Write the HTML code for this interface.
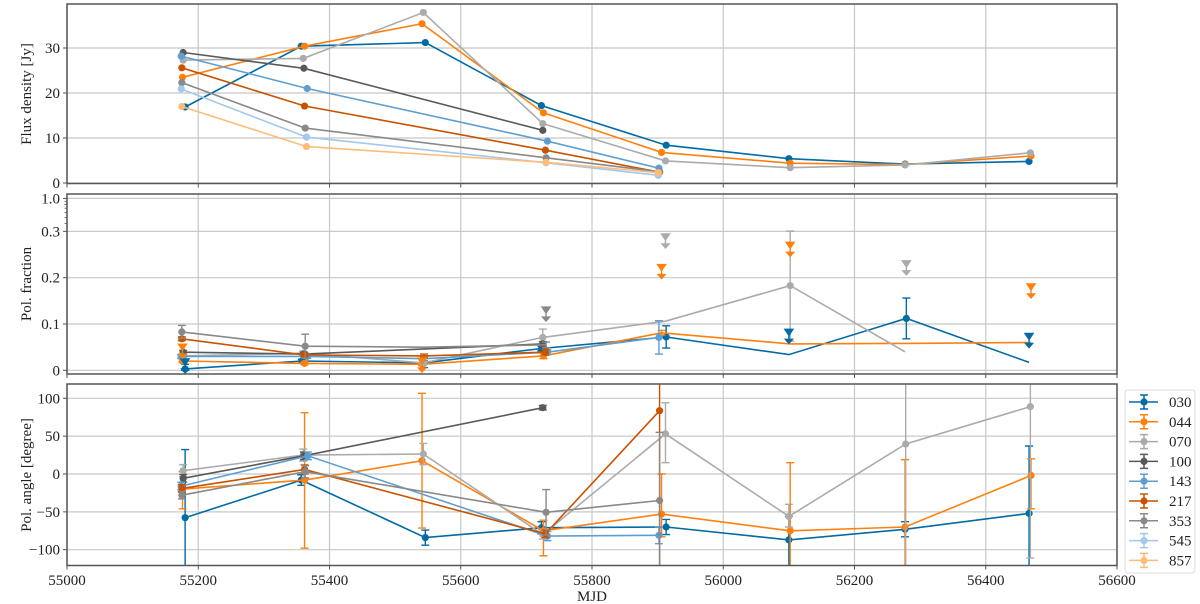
<!DOCTYPE html>
<html><head><meta charset="utf-8">
<style>
html,body{margin:0;padding:0;background:#fff;}
svg{display:block;font-family:"Liberation Serif",serif;}
</style></head>
<body>
<svg id="chart" width="1200" height="604" viewBox="0 0 1200 604" xmlns="http://www.w3.org/2000/svg">
<defs>
<clipPath id="c1"><rect x="67" y="4" width="1050" height="179.5"/></clipPath>
<clipPath id="c2"><rect x="67" y="194" width="1050" height="180"/></clipPath>
<clipPath id="c3"><rect x="67" y="384" width="1050" height="181.5"/></clipPath>
</defs>
<g id="grid"></g>
<g id="marks"></g>
<g id="frames"></g>
<g id="legend"></g>
</svg>
<script>
// ---- data ----
const seriesNames = ["030","044","070","100","143","217","353","545","857"];
const seriesColors = ["#006BA4","#FF800E","#ABABAB","#595959","#5F9ED1","#C85200","#898989","#A2C8EC","#FFBC79"];
const xTicks = [55000,55200,55400,55600,55800,56000,56200,56400,56600];
const fluxTicks = [0,10,20,30];
const fracTicks = [0,0.1,0.2,0.3,1.0];
const fracTickLabels = ["0","0.1","0.2","0.3","1.0"];
const angTicks = [-100,-50,0,50,100];
const angTickLabels = ["\u2212100","\u221250","0","50","100"];

// flux: [mjd, Jy]
const flux030 = [[55180,16.9],[55357,30.4],[55546,31.2],[55723,17.2],[55913,8.4],[56100,5.4],[56277,4.2],[56466,4.8]];
const flux044 = [[55176,23.5],[55362,30.4],[55541,35.4],[55726,15.6],[55906,6.8],[56102,4.4],[56277,4.1],[56469,6.0]];
const flux070 = [[55177,27.3],[55360,27.7],[55543,37.9],[55725,13.2],[55912,4.9],[56102,3.4],[56277,4.0],[56468,6.7]];
const flux100 = [[55177,29.0],[55361,25.5],[55725,11.7]];
const flux143 = [[55174,28.2],[55366,21.0],[55732,9.3],[55902,3.3]];
const flux217 = [[55175,25.6],[55362,17.1],[55729,7.3],[55903,2.4]];
const flux353 = [[55175,22.3],[55363,12.2],[55730,5.6],[55903,2.5]];
const flux545 = [[55174,20.9],[55365,10.2],[55730,4.5],[55901,1.7]];
const flux857 = [[55175,17.0],[55365,8.1],[55730,4.6],[55901,2.3]];

// pol fraction: [mjd, value, err, showMarker]
const frac030 = [[55180,0.003,0.01,1],[55358,0.02,0.004,1],[55544,0.016,0.01,1],[55723,0.047,0.005,1],[55913,0.072,0.024,1],[56100,0.034,0,0],[56279,0.112,0.044,1],[56466,0.017,0,0]];
const frac044 = [[55176,0.02,0.003,1],[55362,0.015,0.003,1],[55541,0.013,0.003,1],[55726,0.031,0.006,1],[55906,0.081,0.005,0],[56102,0.057,0,0],[56277,0.058,0,0],[56469,0.06,0,0]];
const frac070 = [[55177,0.031,0.004,1],[55360,0.037,0.004,1],[55543,0.016,0.004,1],[55725,0.071,0.018,1],[55912,0.106,0,0],[56102,0.183,0.12,1],[56277,0.04,0,0]];
const frac100 = [[55177,0.039,0.004,1],[55361,0.035,0.004,1],[55725,0.057,0.005,1]];
const frac143 = [[55174,0.03,0.004,1],[55366,0.03,0.004,1],[55544,0.025,0.004,0],[55732,0.039,0.005,1],[55902,0.071,0.036,1]];
const frac217 = [[55175,0.068,0.004,1],[55362,0.033,0.004,1],[55544,0.031,0.004,0],[55729,0.039,0.006,1]];
const frac353 = [[55175,0.083,0.014,1],[55363,0.052,0.026,1],[55544,0.05,0,0],[55730,0.055,0.006,0]];
// upper limits: [seriesIndex, mjd, value]
const fracLimIdx = [0,0,0,1,1,1,1,1,2,2,6];
const fracLimMjd = [55180,56100,56466,55176,55541,55906,56102,56469,55912,56279,55730];
const fracLimVal = [0.018,0.082,0.073,0.05,0.02,0.222,0.27,0.18,0.288,0.23,0.13];

// pol angle: [mjd, deg, errLo, errHi]
const ang030 = [[55180,-57.7,120,90],[55357,-8,7,7],[55546,-84,10,10],[55723,-71,8,8],[55913,-70,10,10],[56100,-87,60,31],[56277,-73,10,10],[56466,-52,80,89]];
const ang044 = [[55176,-20,26,23],[55362,-8,90,89],[55541,17.6,89,89],[55726,-75,33,14],[55906,-53,30,53],[56102,-75,60,90],[56277,-70,60,89],[56469,-2,44,22]];
const ang070 = [[55177,4.4,8,8],[55360,25,8,8],[55543,26.4,14,14],[55725,-80,6,6],[55912,53,38,41],[56100,-56,14,16],[56278,39.6,170,170],[56468,89,200,200]];
const ang100 = [[55177,-5.7,5,5],[55361,24,5,5],[55725,87.6,3,3]];
const ang143 = [[55174,-16,5,5],[55367,24,5,5],[55732,-82,6,6],[55902,-81,11,11]];
const ang217 = [[55175,-19,5,5],[55362,6,6,6],[55729,-79,5,5],[55903,83.6,220,220]];
const ang353 = [[55175,-28,5,5],[55363,3,8,8],[55730,-50.6,30,30],[55903,-35,100,90]];

const fluxData = [flux030,flux044,flux070,flux100,flux143,flux217,flux353,flux545,flux857];
const fracData = [frac030,frac044,frac070,frac100,frac143,frac217,frac353];
const angData = [ang030,ang044,ang070,ang100,ang143,ang217,ang353];

// ---- scales ----
const X0=67, X1=1117;
function sx(m){return X0+(m-55000)*(X1-X0)/1600;}
function syFlux(v){return 183-4.5*v;}
function syFrac(v){
  if(v<=0.3) return 370.3-463*v;
  return 231.4-33*Math.log10(v/0.3)/Math.log10(1/0.3);
}
function syAng(v){return 474-0.757*v;}
const panels=[{t:4,b:183.5,clip:"c1"},{t:194,b:374,clip:"c2"},{t:384,b:565.5,clip:"c3"}];

const NS="http://www.w3.org/2000/svg";
function mk(tag,attrs,parent){const e=document.createElementNS(NS,tag);for(const k in attrs)e.setAttribute(k,attrs[k]);parent.appendChild(e);return e;}
const grid=document.getElementById('grid');
const marks=document.getElementById('marks');
const frames=document.getElementById('frames');
const legend=document.getElementById('legend');

// grid + ticks
panels.forEach((p,pi)=>{
  xTicks.forEach(t=>{
    const l=mk('line',{x1:sx(t),x2:sx(t),y1:p.t,y2:p.b,stroke:'#c8c8c8','stroke-width':1.2},grid);
    
    
    const tk=mk('line',{x1:sx(t),x2:sx(t),y1:p.b,y2:p.b+4,stroke:'#555','stroke-width':1},frames);
    
    
  });
});
function yAxis(ticks,labels,fn,p,name){
  ticks.forEach((t,i)=>{
    const y=fn(t);
    const l=mk('line',{x1:X0,x2:X1,y1:y,y2:y,stroke:'#c8c8c8','stroke-width':1.2},grid);
    
    
    const tk=mk('line',{x1:X0-4,x2:X0,y1:y,y2:y,stroke:'#555','stroke-width':1},frames);
    
    
    const tx=mk('text',{x:X0-7,y:y+5,'text-anchor':'end','font-size':15,fill:'#222'},frames);
    tx.textContent=labels[i];
    
    
  });
}
yAxis(fluxTicks,fluxTicks.map(String),syFlux,panels[0],'flux-y');
yAxis(fracTicks,fracTickLabels,syFrac,panels[1],'frac-y');
yAxis(angTicks,angTickLabels,syAng,panels[2],'angle-y');
// minor log ticks 0.4..0.9
[0.4,0.5,0.6,0.7,0.8,0.9].forEach(v=>{
  const tk=mk('line',{x1:X0-2.5,x2:X0,y1:syFrac(v),y2:syFrac(v),stroke:'#555','stroke-width':0.8},frames);
  
  
});
// frames
panels.forEach((p,pi)=>{
  const r=mk('rect',{x:X0,y:p.t,width:X1-X0,height:p.b-p.t,fill:'none',stroke:'#555','stroke-width':1.5},frames);
  
  
});
// x tick labels
xTicks.forEach(t=>{
  const tx=mk('text',{x:sx(t),y:585,'text-anchor':'middle','font-size':15,fill:'#222'},frames);
  tx.textContent=String(t);
  
  
});
const xl=mk('text',{x:592,y:601,'text-anchor':'middle','font-size':15,fill:'#222'},frames);
xl.textContent='MJD';


[['Flux density [Jy]',94,'flux-y-axis-title'],['Pol. fraction',284,'frac-y-axis-title'],['Pol. angle [degree]',475,'angle-y-axis-title']].forEach(a=>{
  const t=mk('text',{x:0,y:0,transform:`translate(31,${a[1]}) rotate(-90)`,'text-anchor':'middle','font-size':15,fill:'#222'},frames);
  t.textContent=a[0];
  
  
});

// series drawing
function drawSeries(data,fn,pi,hasErr,panelName){
  const g=mk('g',{'clip-path':`url(#${panels[pi].clip})`},marks);
  
  
  data.forEach((ser,si)=>{
    const col=seriesColors[si];
    const pts=ser.map(d=>sx(d[0]).toFixed(1)+','+fn(d[1]).toFixed(1)).join(' ');
    const pl=mk('polyline',{points:pts,fill:'none',stroke:col,'stroke-width':1.6},g);
    
    
    ser.forEach(d=>{
      const x=sx(d[0]), y=fn(d[1]);
      if(hasErr==='frac' && d[2]>0){
        const y1=fn(Math.max(0,d[1]-d[2])), y2=fn(d[1]+d[2]);
        const e=mk('path',{d:`M${x},${y1}V${y2}M${x-4},${y1}h8M${x-4},${y2}h8`,stroke:col,'stroke-width':1.4,fill:'none'},g);
        
        
      }
      if(hasErr==='ang'){
        const y1=fn(d[1]-d[2]), y2=fn(d[1]+d[3]);
        const e=mk('path',{d:`M${x},${y1}V${y2}M${x-4},${y1}h8M${x-4},${y2}h8`,stroke:col,'stroke-width':1.4,fill:'none'},g);
        
        
      }
      if(hasErr!=='frac' || d[3]){
        const c=mk('circle',{cx:x,cy:y,r:3.6,fill:col},g);
        
        
      }
    });
  });
}
drawSeries(fluxData,syFlux,0,'none','flux');
drawSeries(fracData,syFrac,1,'frac','pol-fraction');
drawSeries(angData,syAng,2,'ang','pol-angle');

// upper limits
const ulg=mk('g',{'clip-path':'url(#c2)'},marks);
fracLimMjd.forEach((m,i)=>{
  const col=seriesColors[fracLimIdx[i]];
  const x=sx(m), y=syFrac(fracLimVal[i]);
  const p=mk('path',{d:`M${x-4},${y-3}h8l-4,6z M${x},${y}v10 M${x-3.5},${y+7}l3.5,4l3.5,-4z`,fill:col,stroke:col,'stroke-width':1.4},ulg);
  
  
});

// legend
const lb=mk('rect',{x:1125,y:390,width:70,height:183,rx:3,fill:'#fff',stroke:'#ddd','stroke-width':1},legend);


seriesNames.forEach((n,i)=>{
  const y=402+i*19.8, col=seriesColors[i];
  const g=mk('g',{},legend);
  
  
  mk('path',{d:`M1129,${y}H1158M1144,${y-7}V${y+7}M1140,${y-7}h8M1140,${y+7}h8`,stroke:col,'stroke-width':1.5,fill:'none'},g);
  mk('circle',{cx:1144,cy:y,r:3.6,fill:col},g);
  const t=mk('text',{x:1169,y:y+5,'font-size':15,fill:'#222'},g);
  t.textContent=n;
});
</script>
</body></html>
